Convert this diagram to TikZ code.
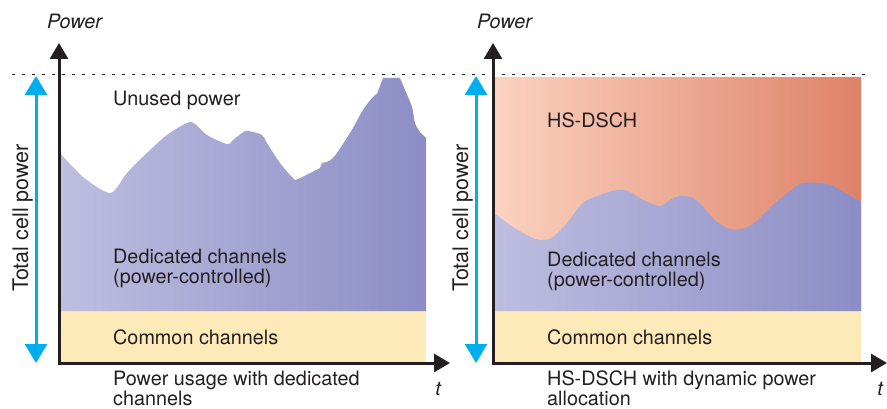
\documentclass[tikz,border=0pt]{standalone}
\usepackage{fontspec}
\setmainfont{TeX Gyre Heros}
\usetikzlibrary{arrows.meta}
\definecolor{dedA}{HTML}{BEBEE0}
\definecolor{dedB}{HTML}{8C8DC5}
\definecolor{hsA}{HTML}{FBD2C0}
\definecolor{hsB}{HTML}{DE8268}
\definecolor{common}{HTML}{FEE9B8}
\definecolor{cellblue}{HTML}{00AEEF}
\definecolor{ink}{HTML}{231F20}
\tikzset{
  lbl/.style={anchor=base west, inner sep=0pt, text=ink, font=\fontsize{19.8}{20}\selectfont},
  twoline/.style={lbl, align=left},
  axislbl/.style={inner sep=0pt, text=ink, font=\fontsize{19.8}{20}\selectfont\itshape},
  sidelbl/.style={inner sep=0pt, text=ink, rotate=90, anchor=base, font=\fontsize{21.5}{22}\selectfont},
  axis/.style={ink, line width=3pt, {Triangle[width=18pt,length=16pt]}-{Triangle[width=18pt,length=16pt]}},
  totalarrow/.style={cellblue, line width=3pt, {Triangle[width=22pt,length=19pt]}-{Triangle[width=22pt,length=19pt]}},
  limit/.style={ink, line width=1pt, dash pattern=on 3.3pt off 6.7pt},
}
\begin{document}
\begin{tikzpicture}[x=1pt,y=-1pt]
\useasboundingbox (0,0) rectangle (887,409);

% maximum cell power
\coordinate (limL) at (12,75);
\coordinate (limR) at (868,75);
\draw[limit] (limL) -- (limR);

% ---------- left panel: dedicated channels only ----------
\fill[common] (60,311) rectangle (426,362);
\shade[left color=dedA, right color=dedB]
  (60,311) -- (60,153)
  -- plot[smooth, tension=0.55] coordinates {
    (60,153) (83,177) (106,192) (115,190) (127,173) (147,153) (167,135)
    (187,123) (195,124) (207,135) (227,144) (233,140) (242,133) (248,131)
    (262,135) (267,143) (280,163) (293,178) (298,179) (320,168)}
  -- (322,163)
  -- plot[smooth, tension=0.55] coordinates {
    (322,163) (333,158) (350,133) (363,110) (373,97) (377,94)}
  -- (383,78) -- (400,78)
  -- plot[smooth, tension=0.55] coordinates {
    (400,78) (405,90) (412,107) (415,123) (420,132) (426,138)}
  -- (426,311) -- cycle;

% ---------- right panel: HS-DSCH fills the remaining power ----------
\shade[left color=hsA, right color=hsB] (494,78) rectangle (861,311);
\fill[common] (494,311) rectangle (861,362);
\shade[left color=dedA, right color=dedB]
  (494,311) -- (494,213)
  -- plot[smooth, tension=0.55] coordinates {
    (494,213) (513,227) (533,238) (543,240) (553,237) (567,223) (583,203)
    (600,195) (617,190) (628,191) (643,200) (660,206) (670,200) (680,196)
    (693,198) (703,207) (717,222) (730,229) (740,229) (753,224) (773,205)
    (790,191) (803,183) (827,184) (840,190) (861,202)}
  -- (861,311) -- cycle;

% axes
\coordinate (yTopL) at (59,43);
\coordinate (oL) at (59,363);
\coordinate (xEndL) at (450,363);
\draw[axis] (yTopL) -- (oL) -- (xEndL);
\coordinate (yTopR) at (493,43);
\coordinate (oR) at (493,363);
\coordinate (xEndR) at (887,363);
\draw[axis] (yTopR) -- (oR) -- (xEndR);

% total cell power arrows
\coordinate (tcTopL) at (36,76);
\coordinate (tcBotL) at (36,363);
\draw[totalarrow] (tcTopL) -- (tcBotL);
\coordinate (tcTopR) at (476,76);
\coordinate (tcBotR) at (476,363);
\draw[totalarrow] (tcTopR) -- (tcBotR);

% labels, left panel (two-line labels are anchored at their last line)
\node[axislbl, anchor=base west] (powL) at (47,29) {Power};
\node[axislbl, anchor=base] (tL) at (438,395) {t};
\node[sidelbl] (totL) at (28,218) {Total cell power};
\node[lbl] (unused) at (113,106) {Unused power};
\node[twoline] (dedL) at (113,283) {Dedicated channels\\(power-controlled)};
\node[lbl] (comL) at (113,344) {Common channels};
\node[twoline] (capL) at (113,405) {Power usage with dedicated\\channels};

% labels, right panel
\node[axislbl, anchor=base west] (powR) at (477,29) {Power};
\node[axislbl, anchor=base] (tR) at (880,395) {t};
\node[sidelbl] (totR) at (468,218) {Total cell power};
\node[lbl] (hs) at (547,128) {HS-DSCH};
\node[twoline] (dedR) at (547,286) {Dedicated channels\\(power-controlled)};
\node[lbl] (comR) at (547,344) {Common channels};
\node[twoline] (capR) at (547,405) {HS-DSCH with dynamic power\\allocation};
\end{tikzpicture}
\end{document}
